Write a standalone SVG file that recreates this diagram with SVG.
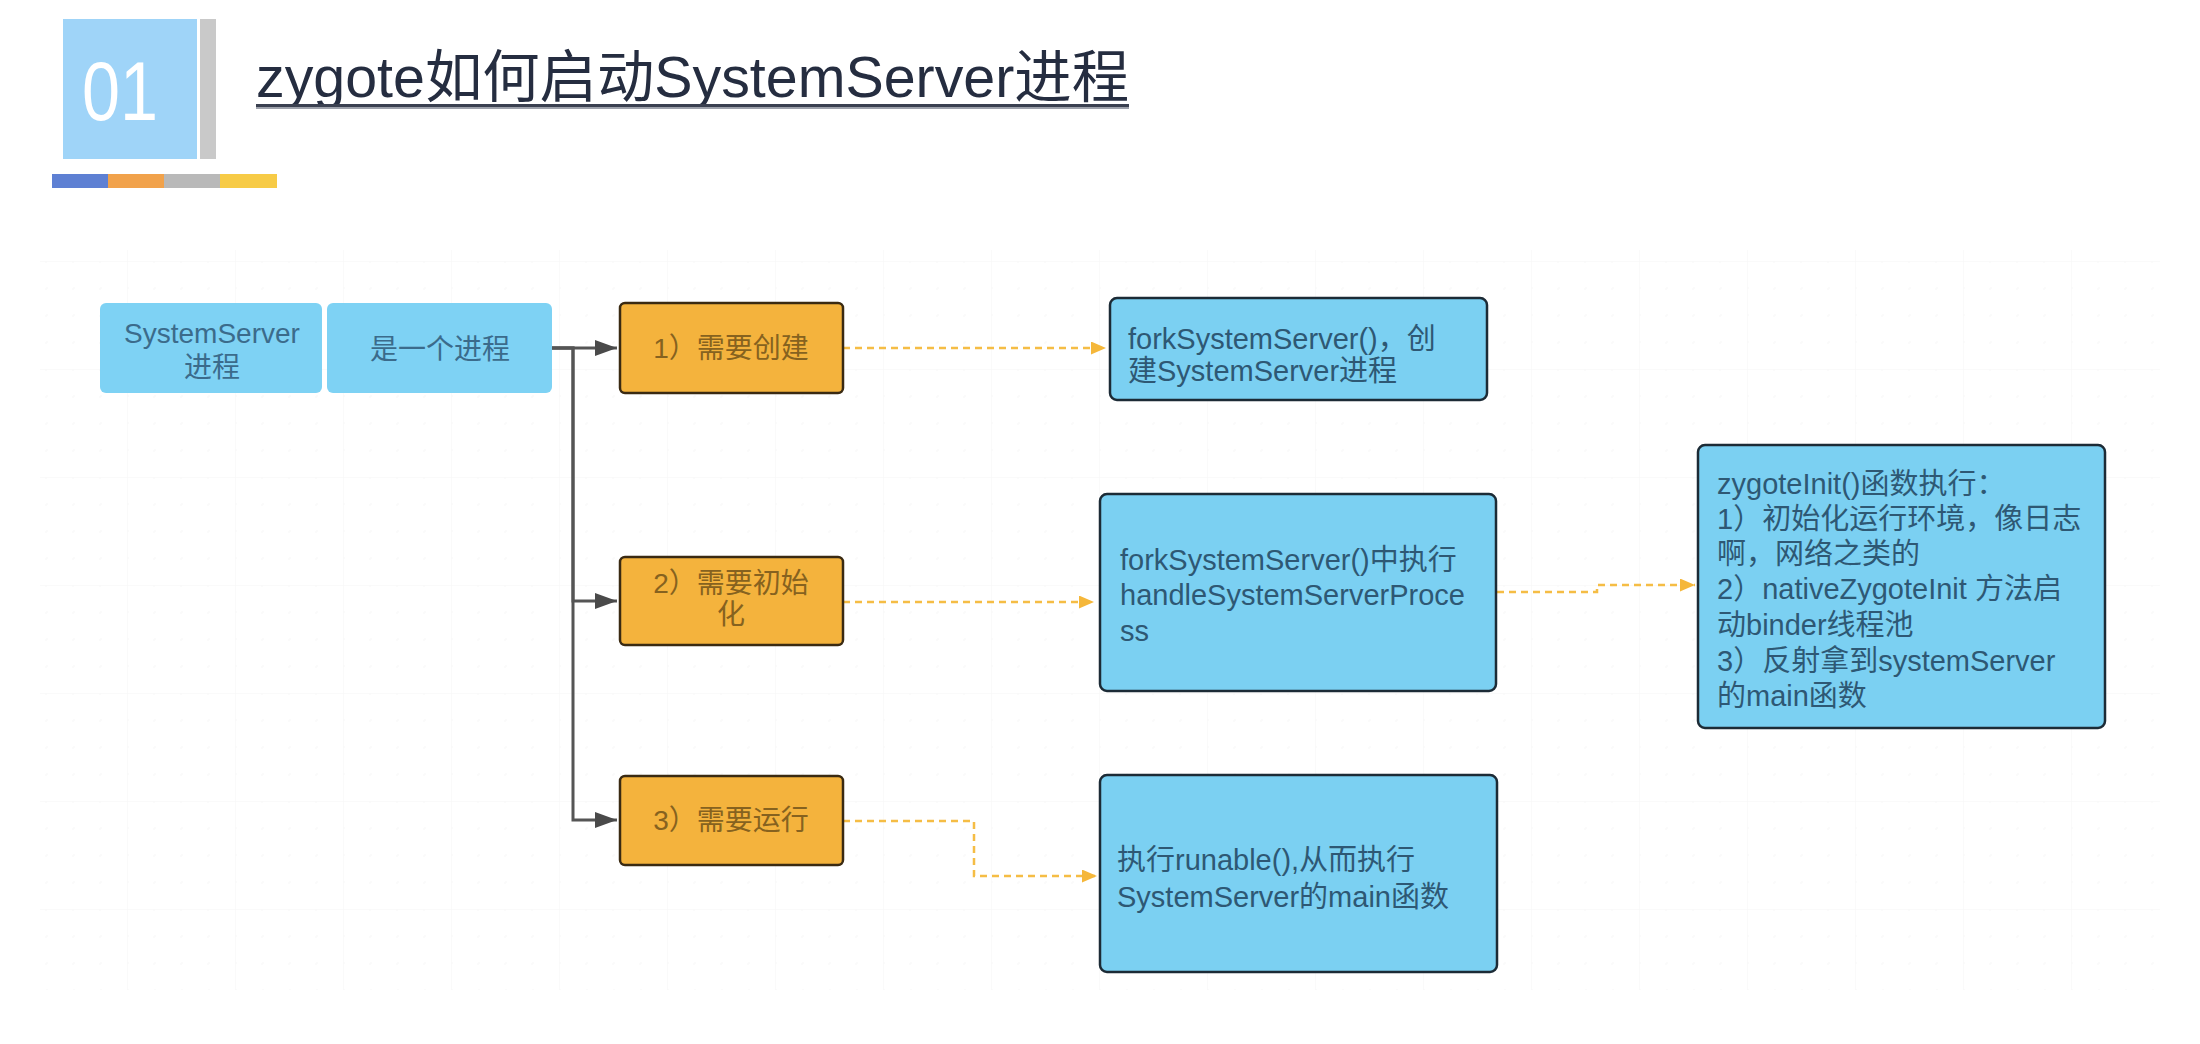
<svg xmlns="http://www.w3.org/2000/svg" width="2200" height="1044" viewBox="0 0 2200 1044">
<style>
.t{font-family:"Liberation Sans","Noto Sans CJK SC",sans-serif;}
.lb{fill:#7ed2f4;}
.lbt{fill:#3b6b8b;font-size:28px;text-anchor:middle;}
.ob{fill:#f4b33d;stroke:#3a2a12;stroke-width:2.5;}
.obt{fill:#86621f;font-size:28px;text-anchor:middle;}
.rb{fill:#7bd0f2;stroke:#1c2b36;stroke-width:2.5;}
.rbt{fill:#2e5874;font-size:29px;}
.solid{fill:none;stroke:#555;stroke-width:3;}
.dash{fill:none;stroke:#f5bd45;stroke-width:2.5;stroke-dasharray:7 5;}
</style>
<defs>
<pattern id="grid" patternUnits="userSpaceOnUse" x="19" y="45" width="108" height="108">
<path d="M0,0 H108 M0,0 V108" fill="none" stroke="#f5f5f5" stroke-width="1"/>
<path d="M27,0 V108 M54,0 V108 M81,0 V108 M0,27 H108 M0,54 H108 M0,81 H108" fill="none" stroke="#f7f7f7" stroke-width="1" stroke-dasharray="2 25"/>
</pattern>
<marker id="ag" markerUnits="userSpaceOnUse" markerWidth="24" markerHeight="18" refX="22" refY="8" orient="auto">
<path d="M0,0 L22,8 L0,16 Z" fill="#4a4a4a"/>
</marker>
<marker id="ao" markerUnits="userSpaceOnUse" markerWidth="16" markerHeight="14" refX="15" refY="6.5" orient="auto">
<path d="M0,0 L15,6.5 L0,13 Z" fill="#f5b73a"/>
</marker>
</defs>
<rect width="2200" height="1044" fill="#ffffff"/>
<rect x="40" y="250" width="2120" height="740" fill="url(#grid)"/>

<g id="header">
<rect x="63" y="19" width="134" height="140" fill="#9fd4f8"/>
<text class="t" x="120" y="120" font-size="84" fill="#ffffff" text-anchor="middle" textLength="76" lengthAdjust="spacingAndGlyphs">01</text>
<rect x="200" y="19" width="16" height="140" fill="#c9c9c9"/>
<rect x="52" y="174" width="56" height="14" fill="#5e80d3"/>
<rect x="108" y="174" width="56" height="14" fill="#f1a24b"/>
<rect x="164" y="174" width="56" height="14" fill="#b9b9b9"/>
<rect x="220" y="174" width="57" height="14" fill="#f7cb46"/>
<text class="t" x="256" y="97" font-size="57" fill="#252d40" textLength="873" lengthAdjust="spacingAndGlyphs">zygote如何启动SystemServer进程</text>
<rect x="256" y="104" width="873" height="3" fill="#3a4050"/>
<rect x="256" y="107" width="873" height="2" fill="#9ea2ac"/>
</g>

<g id="connectors">
<path class="solid" d="M552,348 H617" marker-end="url(#ag)"/>
<path class="solid" d="M552,348 H573 V601 H617" marker-end="url(#ag)"/>
<path class="solid" d="M552,348 H573 V820 H617" marker-end="url(#ag)"/>
<path class="dash" d="M843,348 H1106" marker-end="url(#ao)"/>
<path class="dash" d="M843,602 H1094" marker-end="url(#ao)"/>
<path class="dash" d="M843,821 H974 V876 H1097" marker-end="url(#ao)"/>
<path class="dash" d="M1497,592 H1597 V585 H1695" marker-end="url(#ao)"/>
</g>

<g id="node-systemserver">
<rect class="lb" x="100" y="303" width="222" height="90" rx="6"/>
<text class="t lbt" x="212" y="343">SystemServer</text>
<text class="t lbt" x="212" y="377">进程</text>
</g>
<g id="node-process">
<rect class="lb" x="327" y="303" width="225" height="90" rx="6"/>
<text class="t lbt" x="440" y="359">是一个进程</text>
</g>

<g id="node-create">
<rect class="ob" x="620" y="303" width="223" height="90" rx="5"/>
<text class="t obt" x="731" y="358">1）需要创建</text>
</g>
<g id="node-init">
<rect class="ob" x="620" y="557" width="223" height="88" rx="5"/>
<text class="t obt" x="731" y="593">2）需要初始</text>
<text class="t obt" x="731" y="624">化</text>
</g>
<g id="node-run">
<rect class="ob" x="620" y="776" width="223" height="89" rx="5"/>
<text class="t obt" x="731" y="830">3）需要运行</text>
</g>

<g id="node-fork">
<rect class="rb" x="1110" y="298" width="377" height="102" rx="7"/>
<text class="t rbt" x="1128" y="349">forkSystemServer()，创</text>
<text class="t rbt" x="1128" y="381">建SystemServer进程</text>
</g>
<g id="node-handle">
<rect class="rb" x="1100" y="494" width="396" height="197" rx="7"/>
<text class="t rbt" x="1120" y="570">forkSystemServer()中执行</text>
<text class="t rbt" x="1120" y="605">handleSystemServerProce</text>
<text class="t rbt" x="1120" y="641">ss</text>
</g>
<g id="node-runable">
<rect class="rb" x="1100" y="775" width="397" height="197" rx="7"/>
<text class="t rbt" x="1117" y="870">执行runable(),从而执行</text>
<text class="t rbt" x="1117" y="907">SystemServer的main函数</text>
</g>
<g id="node-zygoteinit">
<rect class="rb" x="1698" y="445" width="407" height="283" rx="7"/>
<text class="t rbt" x="1717" y="494">zygoteInit()函数执行：</text>
<text class="t rbt" x="1717" y="529">1）初始化运行环境，像日志</text>
<text class="t rbt" x="1717" y="564">啊，网络之类的</text>
<text class="t rbt" x="1717" y="599">2）nativeZygoteInit 方法启</text>
<text class="t rbt" x="1717" y="635">动binder线程池</text>
<text class="t rbt" x="1717" y="671">3）反射拿到systemServer</text>
<text class="t rbt" x="1717" y="706">的main函数</text>
</g>
</svg>
